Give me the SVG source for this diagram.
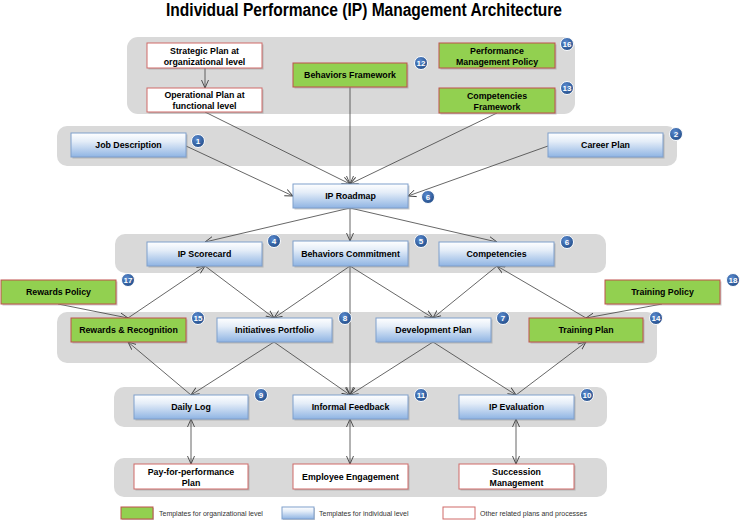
<svg xmlns="http://www.w3.org/2000/svg" width="740" height="522" viewBox="0 0 740 522">
<defs>
<linearGradient id="blueGrad" x1="0" y1="0" x2="0" y2="1">
<stop offset="0" stop-color="#ffffff"/>
<stop offset="0.35" stop-color="#e4edf8"/>
<stop offset="1" stop-color="#8fb4e3"/>
</linearGradient>
<radialGradient id="badgeGrad" cx="0.4" cy="0.35" r="0.7">
<stop offset="0" stop-color="#5b8bd0"/>
<stop offset="1" stop-color="#1f4a86"/>
</radialGradient>
<marker id="arr" markerUnits="userSpaceOnUse" markerWidth="10" markerHeight="10" refX="8" refY="4" orient="auto-start-reverse" viewBox="0 0 10 8">
<path d="M0,0.5 L8,4 L0,7.5" fill="none" stroke="#404040" stroke-width="0.9"/>
</marker>
</defs>
<style>
.band{fill:#d9d9d9;}
.shadow{fill:#8c8c8c;opacity:0.45;}
.blue{fill:url(#blueGrad);stroke:#7f9fcc;stroke-width:1;}
.green{fill:#92d050;stroke:#c0504d;stroke-width:1;}
.white{fill:#ffffff;stroke:#d06a68;stroke-width:1;}
.lbl{font-family:"Liberation Sans",Arial,sans-serif;font-weight:bold;font-size:8.8px;fill:#000;text-anchor:middle;}
.title{font-family:"Liberation Sans",Arial,sans-serif;font-weight:bold;font-size:18px;fill:#000;text-anchor:middle;}
.leg{font-family:"Liberation Sans",Arial,sans-serif;font-size:7px;fill:#333;}
.badge circle{fill:url(#badgeGrad);stroke:#ffffff;stroke-width:1;}
.badge text{font-family:"Liberation Sans",Arial,sans-serif;font-weight:bold;font-size:8px;fill:#fff;text-anchor:middle;}
.conn line{stroke:#404040;stroke-width:0.8;fill:none;}
</style>
<rect width="740" height="522" fill="#ffffff"/>
<text class="title" x="364" y="16" textLength="396" lengthAdjust="spacingAndGlyphs">Individual Performance (IP) Management Architecture</text>

<g id="bands">
<rect class="band" x="127" y="37" width="448" height="77" rx="11"/>
<rect class="band" x="57" y="126" width="620" height="40" rx="10"/>
<rect class="band" x="115" y="234" width="491" height="39" rx="10"/>
<rect class="band" x="57" y="312" width="600" height="51" rx="10"/>
<rect class="band" x="114" y="387" width="493" height="40" rx="10"/>
<rect class="band" x="114" y="458" width="493" height="39" rx="10"/>
</g>

<g id="connectors" class="conn">
<line x1="205" y1="68" x2="205" y2="88" marker-end="url(#arr)"/>
<line x1="205" y1="112" x2="350" y2="184" marker-end="url(#arr)"/>
<line x1="350" y1="87" x2="350" y2="184" marker-end="url(#arr)"/>
<line x1="497" y1="113" x2="350" y2="184" marker-end="url(#arr)"/>
<line x1="186" y1="146" x2="293" y2="196" marker-end="url(#arr)"/>
<line x1="548" y1="146" x2="408" y2="196" marker-end="url(#arr)"/>
<line x1="350" y1="208" x2="205" y2="242" marker-end="url(#arr)"/>
<line x1="350" y1="208" x2="350" y2="241" marker-end="url(#arr)"/>
<line x1="350" y1="208" x2="497" y2="242" marker-end="url(#arr)"/>
<line x1="58" y1="304" x2="128" y2="318" marker-end="url(#arr)"/>
<line x1="128" y1="318" x2="205" y2="266" marker-end="url(#arr)"/>
<line x1="205" y1="266" x2="274" y2="318" marker-end="url(#arr)"/>
<line x1="350" y1="266" x2="274" y2="318" marker-end="url(#arr)"/>
<line x1="350" y1="266" x2="433" y2="318" marker-end="url(#arr)"/>
<line x1="497" y1="266" x2="433" y2="318" marker-end="url(#arr)"/>
<line x1="586" y1="318" x2="497" y2="266" marker-end="url(#arr)"/>
<line x1="662" y1="304" x2="586" y2="318" marker-end="url(#arr)"/>
<line x1="350" y1="266" x2="350" y2="395" marker-end="url(#arr)"/>
<line x1="191" y1="395" x2="128" y2="342" marker-end="url(#arr)"/>
<line x1="274" y1="342" x2="191" y2="395" marker-end="url(#arr)"/>
<line x1="274" y1="342" x2="350" y2="395" marker-end="url(#arr)"/>
<line x1="433" y1="342" x2="350" y2="395" marker-end="url(#arr)"/>
<line x1="433" y1="342" x2="516" y2="395" marker-end="url(#arr)"/>
<line x1="516" y1="395" x2="586" y2="342" marker-end="url(#arr)"/>
<line x1="191" y1="419" x2="191" y2="464" marker-start="url(#arr)" marker-end="url(#arr)"/>
<line x1="350" y1="419" x2="350" y2="464" marker-start="url(#arr)" marker-end="url(#arr)"/>
<line x1="516" y1="419" x2="516" y2="464" marker-start="url(#arr)" marker-end="url(#arr)"/>
</g>

<g id="strategic-plan"><rect class="shadow" x="148.5" y="44.5" width="115" height="25"/><rect class="white" x="147" y="43" width="115" height="25"/><text class="lbl" x="204.5" y="53.5">Strategic Plan at</text><text class="lbl" x="204.5" y="64.5">organizational level</text></g>
<g id="operational-plan"><rect class="shadow" x="148.5" y="89.5" width="115" height="24"/><rect class="white" x="147" y="88" width="115" height="24"/><text class="lbl" x="204.5" y="98">Operational Plan at</text><text class="lbl" x="204.5" y="109">functional level</text></g>
<g id="behaviors-framework"><rect class="shadow" x="294.5" y="64.5" width="114" height="24"/><rect class="green" x="293" y="63" width="114" height="24"/><text class="lbl" x="350" y="78">Behaviors Framework</text></g>
<g id="pm-policy"><rect class="shadow" x="440.5" y="44.5" width="116" height="25"/><rect class="green" x="439" y="43" width="116" height="25"/><text class="lbl" x="497" y="53.5">Performance</text><text class="lbl" x="497" y="64.5">Management Policy</text></g>
<g id="competencies-framework"><rect class="shadow" x="440.5" y="89.5" width="116" height="25"/><rect class="green" x="439" y="88" width="116" height="25"/><text class="lbl" x="497" y="98.5">Competencies</text><text class="lbl" x="497" y="109.5">Framework</text></g>

<g id="job-description"><rect class="shadow" x="72.5" y="134.5" width="115" height="24"/><rect class="blue" x="71" y="133" width="115" height="24"/><text class="lbl" x="128.5" y="148">Job Description</text></g>
<g id="career-plan"><rect class="shadow" x="549.5" y="134.5" width="115" height="24"/><rect class="blue" x="548" y="133" width="115" height="24"/><text class="lbl" x="605.5" y="148">Career Plan</text></g>
<g id="ip-roadmap"><rect class="shadow" x="294.5" y="185.5" width="115" height="24"/><rect class="blue" x="293" y="184" width="115" height="24"/><text class="lbl" x="350.5" y="199">IP Roadmap</text></g>

<g id="ip-scorecard"><rect class="shadow" x="148.5" y="243.5" width="115" height="24"/><rect class="blue" x="147" y="242" width="115" height="24"/><text class="lbl" x="204.5" y="257">IP Scorecard</text></g>
<g id="behaviors-commitment"><rect class="shadow" x="294.5" y="242.5" width="115" height="25"/><rect class="blue" x="293" y="241" width="115" height="25"/><text class="lbl" x="350.5" y="256.5">Behaviors Commitment</text></g>
<g id="competencies"><rect class="shadow" x="440.5" y="243.5" width="115" height="24"/><rect class="blue" x="439" y="242" width="115" height="24"/><text class="lbl" x="496.5" y="257">Competencies</text></g>

<g id="rewards-policy"><rect class="shadow" x="2.5" y="281.5" width="115" height="24"/><rect class="green" x="1" y="280" width="115" height="24"/><text class="lbl" x="58.5" y="295">Rewards Policy</text></g>
<g id="training-policy"><rect class="shadow" x="606.5" y="281.5" width="115" height="24"/><rect class="green" x="605" y="280" width="115" height="24"/><text class="lbl" x="662.5" y="295">Training Policy</text></g>

<g id="rewards-recognition"><rect class="shadow" x="72.5" y="319.5" width="115" height="24"/><rect class="green" x="71" y="318" width="115" height="24"/><text class="lbl" x="128.5" y="333">Rewards &amp; Recognition</text></g>
<g id="initiatives-portfolio"><rect class="shadow" x="218.5" y="319.5" width="115" height="24"/><rect class="blue" x="217" y="318" width="115" height="24"/><text class="lbl" x="274.5" y="333">Initiatives Portfolio</text></g>
<g id="development-plan"><rect class="shadow" x="377.5" y="319.5" width="115" height="24"/><rect class="blue" x="376" y="318" width="115" height="24"/><text class="lbl" x="433.5" y="333">Development Plan</text></g>
<g id="training-plan"><rect class="shadow" x="530.5" y="319.5" width="114" height="24"/><rect class="green" x="529" y="318" width="114" height="24"/><text class="lbl" x="586" y="333">Training Plan</text></g>

<g id="daily-log"><rect class="shadow" x="135.5" y="396.5" width="114" height="24"/><rect class="blue" x="134" y="395" width="114" height="24"/><text class="lbl" x="191" y="410">Daily Log</text></g>
<g id="informal-feedback"><rect class="shadow" x="294.5" y="396.5" width="115" height="24"/><rect class="blue" x="293" y="395" width="115" height="24"/><text class="lbl" x="350.5" y="410">Informal Feedback</text></g>
<g id="ip-evaluation"><rect class="shadow" x="460.5" y="396.5" width="115" height="24"/><rect class="blue" x="459" y="395" width="115" height="24"/><text class="lbl" x="516.5" y="410">IP Evaluation</text></g>

<g id="pay-for-performance"><rect class="shadow" x="135.5" y="465.5" width="114" height="25"/><rect class="white" x="134" y="464" width="114" height="25"/><text class="lbl" x="191" y="474.5">Pay-for-performance</text><text class="lbl" x="191" y="485.5">Plan</text></g>
<g id="employee-engagement"><rect class="shadow" x="294.5" y="465.5" width="115" height="25"/><rect class="white" x="293" y="464" width="115" height="25"/><text class="lbl" x="350.5" y="479.5">Employee Engagement</text></g>
<g id="succession-management"><rect class="shadow" x="460.5" y="465.5" width="115" height="25"/><rect class="white" x="459" y="464" width="115" height="25"/><text class="lbl" x="516.5" y="474.5">Succession</text><text class="lbl" x="516.5" y="485.5">Management</text></g>

<g id="badges">
<g class="badge"><circle cx="198" cy="141" r="6.5"/><text x="198" y="144">1</text></g>
<g class="badge"><circle cx="676" cy="134" r="6.5"/><text x="676" y="137">2</text></g>
<g class="badge"><circle cx="274" cy="241" r="6.5"/><text x="274" y="244">4</text></g>
<g class="badge"><circle cx="421" cy="241" r="6.5"/><text x="421" y="244">5</text></g>
<g class="badge"><circle cx="428" cy="197" r="6.5"/><text x="428" y="200">6</text></g>
<g class="badge"><circle cx="567" cy="242" r="6.5"/><text x="567" y="245">6</text></g>
<g class="badge"><circle cx="503" cy="318" r="6.5"/><text x="503" y="321">7</text></g>
<g class="badge"><circle cx="345" cy="318" r="6.5"/><text x="345" y="321">8</text></g>
<g class="badge"><circle cx="261" cy="395" r="6.5"/><text x="261" y="398">9</text></g>
<g class="badge"><circle cx="587" cy="395" r="6.5"/><text x="587" y="398">10</text></g>
<g class="badge"><circle cx="421" cy="395" r="6.5"/><text x="421" y="398">11</text></g>
<g class="badge"><circle cx="421" cy="63" r="6.5"/><text x="421" y="66">12</text></g>
<g class="badge"><circle cx="567" cy="88" r="6.5"/><text x="567" y="91">13</text></g>
<g class="badge"><circle cx="656" cy="318" r="6.5"/><text x="656" y="321">14</text></g>
<g class="badge"><circle cx="198" cy="318" r="6.5"/><text x="198" y="321">15</text></g>
<g class="badge"><circle cx="567" cy="44" r="6.5"/><text x="567" y="47">16</text></g>
<g class="badge"><circle cx="128" cy="280" r="6.5"/><text x="128" y="283">17</text></g>
<g class="badge"><circle cx="733" cy="280" r="6.5"/><text x="733" y="283">18</text></g>
</g>

<g id="legend">
<rect class="shadow" x="122" y="508" width="32" height="12"/>
<rect class="green" x="121" y="507" width="32" height="12"/>
<text class="leg" x="159" y="516">Templates for organizational level</text>
<rect class="shadow" x="283" y="508" width="32" height="12"/>
<rect class="blue" x="282" y="507" width="32" height="12"/>
<text class="leg" x="319" y="516">Templates for individual level</text>
<rect class="white" x="443" y="507" width="32" height="12"/>
<text class="leg" x="480" y="516">Other related plans and processes</text>
</g>
</svg>
